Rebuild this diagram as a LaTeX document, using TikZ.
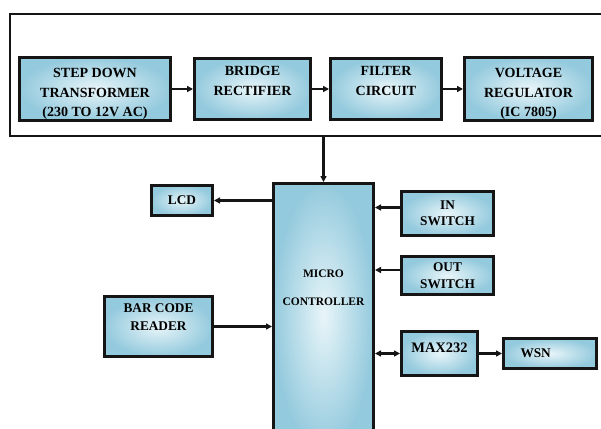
\documentclass[tikz,border=0pt]{standalone}
\usepackage{fontspec}
\setmainfont{Liberation Serif}
\usepackage{xcolor}
\definecolor{edge}{HTML}{151515}
\definecolor{boxin}{HTML}{E8F5F9}
\definecolor{boxout}{HTML}{94CADD}
\usetikzlibrary{arrows.meta,positioning}
\tikzset{
  >={Triangle[length=6pt,width=6pt]},
  blk/.style={draw=edge,line width=3pt,inner color=boxin,outer color=boxout,align=center,inner sep=1pt,font=\bfseries\fontsize{13.3}{18}\selectfont},
  tblk/.style={blk,minimum height=61pt,font=\bfseries\fontsize{14}{19.5}\selectfont},
  arr/.style={->,draw=edge,line width=2.3pt},
}
\begin{document}
\begin{tikzpicture}[x=1pt,y=-1pt]
\useasboundingbox (0,0) rectangle (601,428);
% power supply section
\node[draw=edge,line width=2.2pt,minimum width=601.8pt,minimum height=121.8pt] (supply) at (311,75) {};
\node[tblk,minimum width=151pt] (trans) at (95,89) {~\\STEP DOWN\\TRANSFORMER\\(230 TO 12V AC)};
\node[tblk,minimum width=116pt,right=21pt of trans] (rect) {BRIDGE\\RECTIFIER\\[-3pt]~};
\node[tblk,minimum width=111pt,right=17pt of rect] (filt) {FILTER\\CIRCUIT\\[-3pt]~};
\node[tblk,minimum width=128pt,right=20pt of filt] (reg) {~\\VOLTAGE\\REGULATOR\\(IC 7805)};
\draw[arr] (trans) -- (rect); \draw[arr] (rect) -- (filt); \draw[arr] (filt) -- (reg);
% controller and peripherals
\node[blk,minimum width=100pt,minimum height=265pt,font=\bfseries\fontsize{11.5}{28}\selectfont] (mc) at (323.5,316) {MICRO\\CONTROLLER\\~\\~};
\node[blk,minimum width=61pt,minimum height=30pt] (lcd) at (182,200.5) {LCD};
\node[blk,minimum width=108pt,minimum height=60pt] (bar) at (158.5,326.5) {BAR CODE\\READER\\~};
\node[blk,minimum width=92pt,minimum height=44pt,font=\bfseries\fontsize{13.3}{16}\selectfont] (insw) at (447.5,213.5) {IN\\SWITCH};
\node[blk,minimum width=92pt,minimum height=38pt,font=\bfseries\fontsize{13.3}{17}\selectfont] (outsw) at (447.5,275.5) {OUT\\SWITCH};
\node[blk,minimum width=76pt,minimum height=44pt,text depth=12pt,font=\bfseries\fontsize{14.5}{17}\selectfont] (max) at (439.5,353.5) {MAX232};
\node[blk,text width=59pt,align=left,inner xsep=17pt,minimum height=30pt,right=23pt of max] (wsn) {WSN};
\draw[arr] (supply.south -| mc.north) -- (mc.north);
\draw[arr] (mc.west |- lcd) -- (lcd);
\draw[arr] (bar) -- (bar -| mc.west);
\draw[arr] ([yshift=6pt]insw.west) -- ([yshift=6pt]insw.west -| mc.east);
\draw[arr] ([yshift=5.5pt]outsw.west) -- ([yshift=5.5pt]outsw.west -| mc.east);
\draw[arr,<->] (mc.east |- max) -- (max);
\draw[arr] (max.east) -- (max.east -| wsn.west);
\end{tikzpicture}
\end{document}
